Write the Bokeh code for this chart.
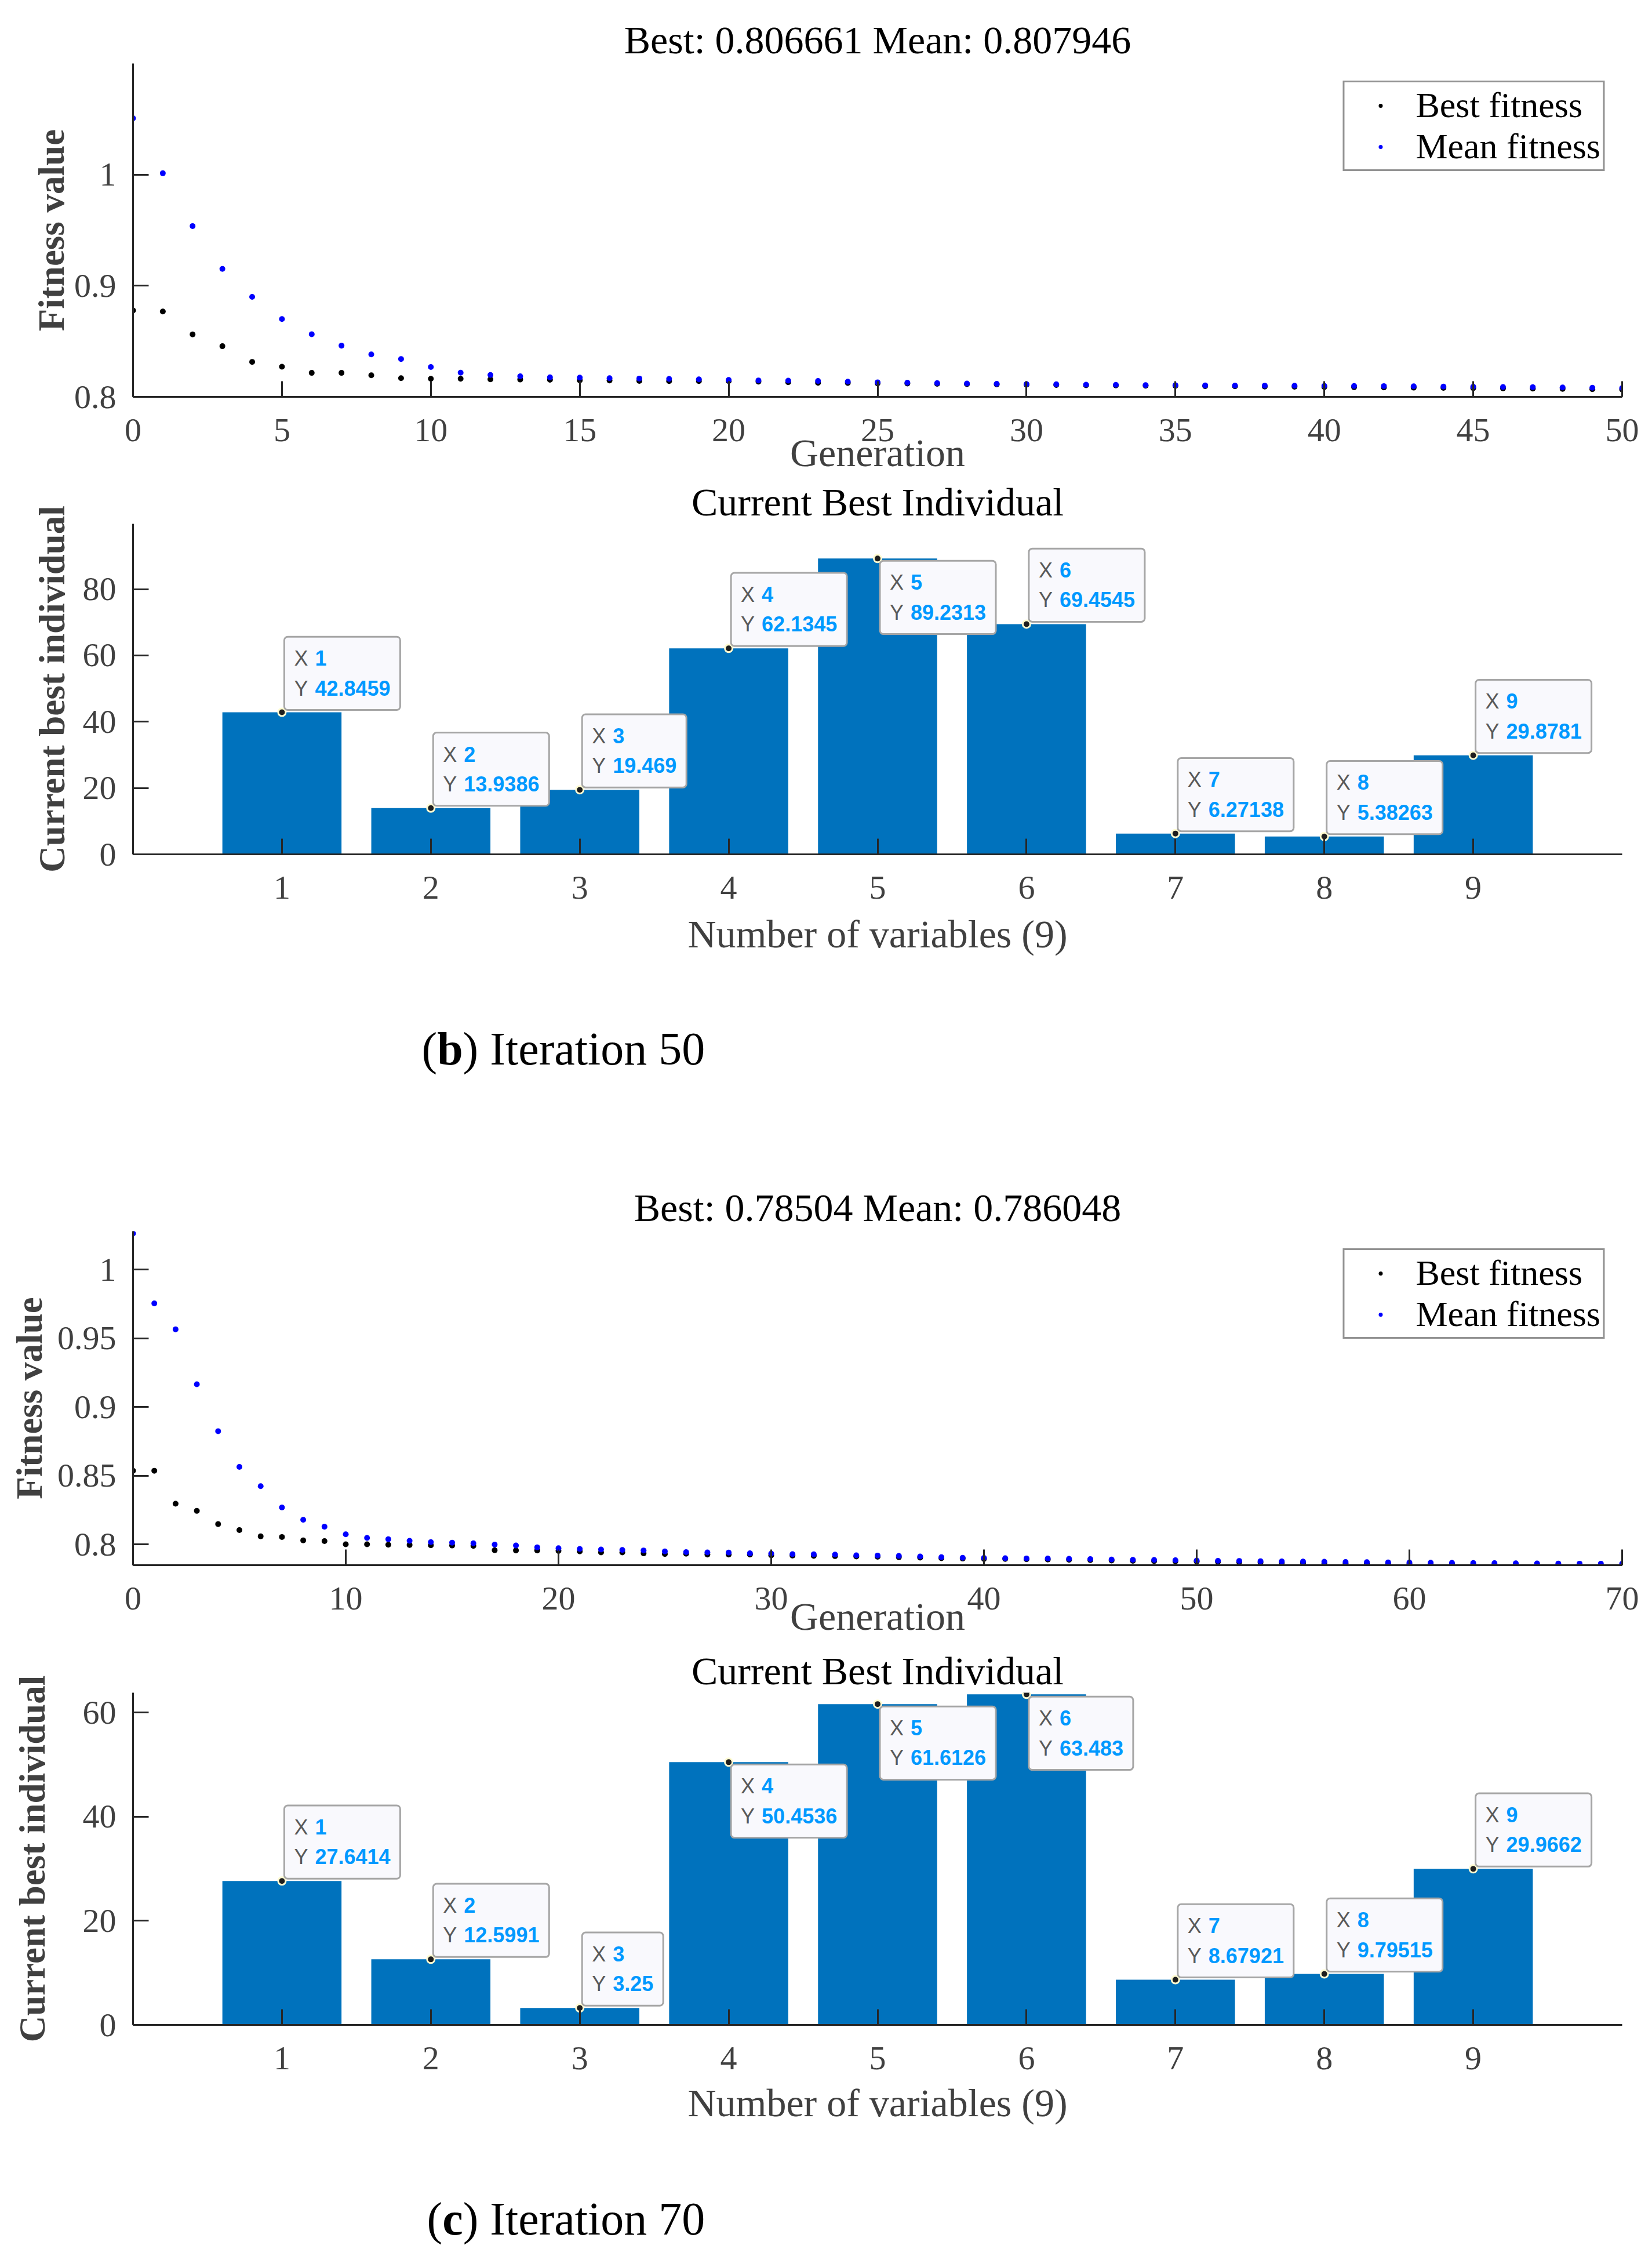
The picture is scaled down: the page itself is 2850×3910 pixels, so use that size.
from bokeh.plotting import figure
from bokeh.models import Range1d, FixedTicker, Label, CustomJSTickFormatter, Legend
from bokeh.layouts import column
from bokeh.embed import file_html
from bokeh.resources import INLINE
from bokeh.core.properties import value

# ---------------- data ----------------
gen_b = list(range(51))
best_b = [0.8778, 0.8768, 0.8562, 0.8456, 0.8315, 0.8271, 0.8216, 0.8216, 0.8194, 0.8168,
          0.8163, 0.8163, 0.8158, 0.8156, 0.8154, 0.8149, 0.8147, 0.8144, 0.8142, 0.8142,
          0.8142, 0.8137, 0.8132, 0.8127, 0.8125, 0.8122, 0.8120, 0.8117, 0.8115, 0.8112,
          0.8110, 0.8107, 0.8105, 0.8103, 0.8101, 0.8099, 0.8097, 0.8095, 0.8093, 0.8091,
          0.8089, 0.8087, 0.8085, 0.8083, 0.8081, 0.8079, 0.8077, 0.8074, 0.8072, 0.8069,
          0.806661]
mean_b = [1.0507, 1.0012, 0.9537, 0.9152, 0.8900, 0.8700, 0.8564, 0.8461, 0.8382, 0.8341,
          0.8269, 0.8218, 0.8197, 0.8185, 0.8176, 0.8173, 0.8168, 0.8165, 0.8162, 0.8158,
          0.8152, 0.8148, 0.8146, 0.8143, 0.8137, 0.8131, 0.8128, 0.8124, 0.8120, 0.8117,
          0.8115, 0.8113, 0.8110, 0.8108, 0.8106, 0.8105, 0.8103, 0.8102, 0.8101, 0.8100,
          0.8099, 0.8098, 0.8097, 0.8095, 0.8093, 0.8091, 0.8089, 0.8087, 0.8085, 0.8082,
          0.807946]

gen_c = list(range(71))
best_c = [0.8537, 0.8537, 0.8297, 0.8245, 0.8149, 0.8105, 0.8060, 0.8055, 0.8030, 0.8025,
          0.8002, 0.8002, 0.7999, 0.7997, 0.7995, 0.7993, 0.7990, 0.7959, 0.7957, 0.7957,
          0.7954, 0.7950, 0.7943, 0.7943, 0.7936, 0.7931, 0.7933, 0.7927, 0.7927, 0.7927,
          0.7922, 0.7920, 0.7918, 0.7916, 0.7913, 0.7911, 0.7908, 0.7905, 0.7901, 0.7898,
          0.7896, 0.7895, 0.7893, 0.7891, 0.7889, 0.7887, 0.7884, 0.7882, 0.7880, 0.7878,
          0.7876, 0.7874, 0.7872, 0.7870, 0.7868, 0.7866, 0.7865, 0.7863, 0.7862, 0.7860,
          0.7859, 0.7858, 0.7857, 0.7856, 0.7855, 0.7854, 0.7853, 0.7852, 0.7851, 0.7851,
          0.78504]
mean_c = [1.0263, 0.9755, 0.9566, 0.9166, 0.8825, 0.8565, 0.8425, 0.8270, 0.8180, 0.8130,
          0.8075, 0.8048, 0.8039, 0.8027, 0.8018, 0.8014, 0.8009, 0.8000, 0.7993, 0.7980,
          0.7973, 0.7968, 0.7964, 0.7961, 0.7957, 0.7950, 0.7945, 0.7943, 0.7942, 0.7936,
          0.7934, 0.7930, 0.7929, 0.7927, 0.7922, 0.7920, 0.7917, 0.7913, 0.7908, 0.7904,
          0.7903, 0.7901, 0.7899, 0.7898, 0.7896, 0.7894, 0.7891, 0.7889, 0.7888, 0.7886,
          0.7884, 0.7882, 0.7881, 0.7879, 0.7877, 0.7876, 0.7875, 0.7873, 0.7872, 0.7870,
          0.7869, 0.7868, 0.7867, 0.7866, 0.7865, 0.7864, 0.7863, 0.7862, 0.7861, 0.7861,
          0.786048]

var_idx = [1, 2, 3, 4, 5, 6, 7, 8, 9]
ind_b = [42.8459, 13.9386, 19.469, 62.1345, 89.2313, 69.4545, 6.27138, 5.38263, 29.8781]
ind_c = [27.6414, 12.5991, 3.25, 50.4536, 61.6126, 63.483, 8.67921, 9.79515, 29.9662]
tip_down_b = [False, False, False, False, True, False, False, False, False]
tip_down_c = [False, False, False, True, True, True, False, False, False]

title_b = "Best: 0.806661 Mean: 0.807946"
title_c = "Best: 0.78504 Mean: 0.786048"
bar_title = "Current Best Individual"
fit_ylabel = "Fitness value"
bar_ylabel = "Current best individual"
fit_xlabel = "Generation"
bar_xlabel = "Number of variables (9)"
legend_labels = ["Best fitness", "Mean fitness"]

# ---------------- style ----------------
W = 2834
SERIF = "Liberation Serif"
SANS = "Liberation Sans"
AX = "#262626"
TICKC = "#404040"
LEFT, RIGHT = 229, 36


def style_axes(p, xstand, xlab_stand, ystand, ylab_stand):
    for ax in (p.xaxis[0], p.yaxis[0]):
        ax.axis_line_color = AX
        ax.axis_line_width = 3
        ax.major_tick_line_color = AX
        ax.major_tick_line_width = 3
        ax.major_tick_in = 27
        ax.major_tick_out = 0
        ax.minor_tick_line_color = None
        ax.major_label_text_font = SERIF
        ax.major_label_text_font_size = "58px"
        ax.major_label_text_color = TICKC
        ax.axis_label_text_font = SERIF
        ax.axis_label_text_color = TICKC
    p.xaxis[0].axis_label_text_font_size = "68px"
    p.xaxis[0].axis_label_text_font_style = "normal"
    p.yaxis[0].axis_label_text_font_size = "63px"
    p.yaxis[0].axis_label_text_font_style = "bold"
    p.xaxis[0].major_label_standoff = xstand
    p.xaxis[0].axis_label_standoff = xlab_stand
    p.yaxis[0].major_label_standoff = ystand
    p.yaxis[0].axis_label_standoff = ylab_stand
    p.grid.visible = False
    p.outline_line_color = None


def style_title(p, text, standoff):
    p.title.text = text
    p.title.text_font = SERIF
    p.title.text_font_size = "68px"
    p.title.text_font_style = "normal"
    p.title.text_color = "black"
    p.title.align = "center"
    p.title.standoff = standoff


def fitness_fig(gens, best, mean, title, xmax, ylo, yhi, xticks, yticks,
                height, top, bottom, xlab_stand, ylab_stand):
    p = figure(width=W, height=height, x_range=Range1d(0, xmax), y_range=Range1d(ylo, yhi),
               output_backend="svg", toolbar_location=None,
               min_border_left=LEFT, min_border_right=RIGHT,
               min_border_top=top, min_border_bottom=bottom)
    style_title(p, title, 6)
    r1 = p.scatter(gens, best, size=40, marker="dot", color="black")
    r2 = p.scatter(gens, mean, size=40, marker="dot", color="blue")
    p.xaxis.ticker = FixedTicker(ticks=xticks)
    p.yaxis.ticker = FixedTicker(ticks=yticks)
    p.yaxis.formatter = CustomJSTickFormatter(
        code=r"var s = tick.toFixed(2); s = s.replace(/0+$/, ''); s = s.replace(/\.$/, ''); return s;")
    p.xaxis.axis_label = fit_xlabel
    p.yaxis.axis_label = fit_ylabel
    style_axes(p, 38, xlab_stand, 29, ylab_stand)
    leg = Legend(items=[(legend_labels[0], [r1]), (legend_labels[1], [r2])], location="top_right")
    leg.label_text_font = SERIF
    leg.label_text_font_size = "62px"
    leg.label_text_color = "black"
    leg.border_line_color = AX
    leg.border_line_width = 3
    leg.background_fill_color = "white"
    leg.background_fill_alpha = 1.0
    leg.margin = 30
    leg.padding = 4
    leg.spacing = 0
    leg.glyph_width = 116
    leg.glyph_height = 70
    leg.label_height = 70
    leg.label_standoff = 3
    p.add_layout(leg)
    return p


FS = 36
PADX = 17
XGAP = 36
PT = 17
PB = 17


def add_tips(p, xs, ys, downs):
    for xi, yi, dn in zip(xs, ys, downs):
        vs = f"{yi:g}"
        valw = sum(0.278 * FS if ch == "." else 0.556 * FS for ch in vs)
        right = int(round(XGAP - 0.667 * FS + valw + PADX))
        yoff = -4 if dn else 4
        base = "top" if dn else "bottom"
        anchor = "top_left" if dn else "bottom_left"
        common = dict(x=xi, y=yi, text_font=SANS, text_font_size=f"{FS}px",
                      text_line_height=1.25, text_align="left", text_baseline=base,
                      y_offset=yoff)
        box_kw = dict(text="X\nY", x_offset=4, text_color="#595959",
                      background_fill_color="#f9f9fd", border_line_color="#a6a6a6",
                      border_line_width=3, border_radius=6,
                      padding=dict(left=PADX, right=right, top=PT, bottom=PB), **common)
        val_kw = dict(text=f"{xi}\n{vs}", x_offset=4 + XGAP, text_color="#0099ff",
                      text_font_style="bold",
                      padding=dict(left=PADX, right=0, top=PT, bottom=PB), **common)
        for kw in (box_kw, val_kw):
            try:
                lab = Label(anchor=anchor, **kw)
            except Exception:
                lab = Label(**kw)
            p.add_layout(lab)
    p.scatter(xs, ys, size=13, fill_color="#1e1e1e", line_color="#fffbd0", line_width=3)


def bar_fig(vals, downs, ymax, yticks, height, top, bottom, xlab_stand, ylab_stand):
    p = figure(width=W, height=height, x_range=Range1d(0, 10), y_range=Range1d(0, ymax),
               output_backend="svg", toolbar_location=None,
               min_border_left=LEFT, min_border_right=RIGHT,
               min_border_top=top, min_border_bottom=bottom)
    style_title(p, bar_title, 0)
    p.vbar(x=var_idx, top=vals, width=0.8, fill_color="#0072bd", line_color=None)
    p.xaxis.ticker = FixedTicker(ticks=var_idx)
    p.yaxis.ticker = FixedTicker(ticks=yticks)
    p.xaxis.axis_label = bar_xlabel
    p.yaxis.axis_label = bar_ylabel
    style_axes(p, 38, xlab_stand, 29, ylab_stand)
    add_tips(p, var_idx, vals, downs)
    return p


def caption_fig(height, baseline_from_top, x0, letter, rest):
    # blank strip whose frame spans page pixels LEFT..W-RIGHT, so data x == page x
    p = figure(width=W, height=height, x_range=Range1d(LEFT, W - RIGHT),
               y_range=Range1d(0, height),
               x_axis_type=None, y_axis_type=None, output_backend="svg",
               toolbar_location=None, min_border=0, title=None,
               min_border_left=LEFT, min_border_right=RIGHT)
    p.outline_line_color = None
    p.grid.visible = False
    fs = 80
    y = height - baseline_from_top
    w_paren = 0.333 * fs
    w_letter = {"b": 0.556, "c": 0.444}[letter] * fs
    kw = dict(text_font=value(SERIF), text_font_size=value(f"{fs}px"), text_color="black",
              text_baseline="alphabetic", text_align="left")
    p.text(x=[x0], y=[y], text=["("], **kw)
    p.text(x=[x0 + w_paren], y=[y], text=[letter], text_font_style="bold", **kw)
    p.text(x=[x0 + w_paren + w_letter], y=[y], text=[rest], **kw)
    return p


f1 = fitness_fig(gen_b, best_b, mean_b, title_b, 50, 0.8, 1.1,
                 list(range(0, 51, 5)), [0.8, 0.9, 1.0],
                 height=822, top=109, bottom=138, xlab_stand=-21, ylab_stand=1)
f2 = bar_fig(ind_b, tip_down_b, 99.7, [0, 20, 40, 60, 80],
             height=876, top=81, bottom=225, xlab_stand=20, ylab_stand=15)
f3 = caption_fig(300, 110, 727, "b", ") Iteration 50")
f4 = fitness_fig(gen_c, best_c, mean_c, title_c, 70, 0.785, 1.028,
                 list(range(0, 71, 10)), [0.8, 0.85, 0.9, 0.95, 1.0],
                 height=841, top=125, bottom=140, xlab_stand=-29, ylab_stand=10)
f5 = bar_fig(ind_c, tip_down_c, 63.8, [0, 20, 40, 60],
             height=869, top=80, bottom=216, xlab_stand=17, ylab_stand=49)
f6 = caption_fig(186, 118, 736, "c", ") Iteration 70")

layout = column(f1, f2, f3, f4, f5, f6)
open("out.html", "w").write(file_html(layout, INLINE))
